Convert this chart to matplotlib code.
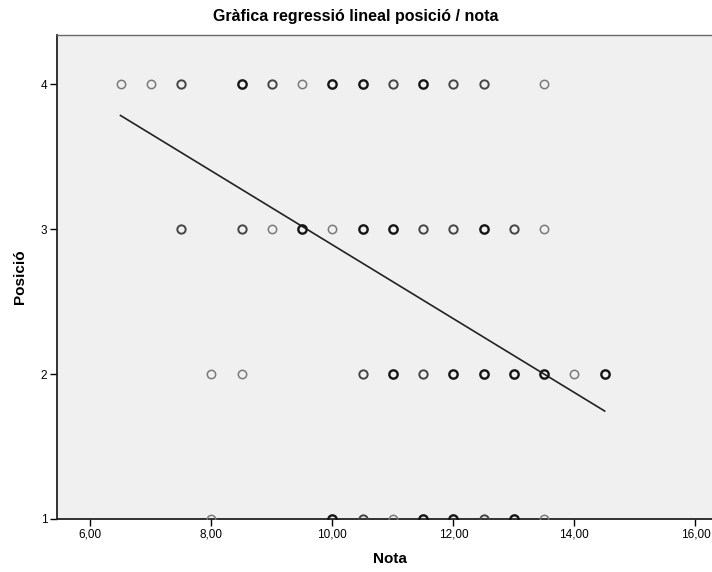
import matplotlib

matplotlib.use("Agg")
import matplotlib.pyplot as plt
import numpy as np

plt.rcParams["font.family"] = ["Liberation Sans", "DejaVu Sans"]

# Punts (nota, posició) i quantes vegades es repeteix cada punt (foscor del cercle)
nota_4 = [6.5, 7.0, 7.5, 8.5, 9.0, 9.5, 10.0, 10.5, 11.0, 11.5, 12.0, 12.5, 13.5]
rep_4 = [1, 1, 2, 3, 2, 1, 3, 3, 2, 3, 2, 2, 1]
nota_3 = [7.5, 8.5, 9.0, 9.5, 10.0, 10.5, 11.0, 11.5, 12.0, 12.5, 13.0, 13.5]
rep_3 = [2, 2, 1, 3, 1, 3, 3, 2, 2, 3, 2, 1]
nota_2 = [8.0, 8.5, 10.5, 11.0, 11.5, 12.0, 12.5, 13.0, 13.5, 14.0, 14.5]
rep_2 = [1, 1, 2, 3, 2, 3, 3, 3, 3, 1, 3]
nota_1 = [8.0, 10.0, 10.5, 11.0, 11.5, 12.0, 12.5, 13.0, 13.5]
rep_1 = [1, 3, 2, 1, 3, 3, 2, 3, 1]

# Recta de regressió llegida del gràfic
recta_x = [6.5, 14.5]
recta_y = [3.785, 1.745]

x_ticks = [6, 8, 10, 12, 14, 16]
y_ticks = [1, 2, 3, 4]

SHADES = {1: "#7a7a7a", 2: "#454545", 3: "#151515"}

fig = plt.figure(figsize=(7.12, 5.72), dpi=100)
ax = fig.add_axes([0.080, 0.0927, 0.935, 0.846])
ax.set_facecolor("#f0f0f0")

for notes, reps, pos in [(nota_4, rep_4, 4), (nota_3, rep_3, 3), (nota_2, rep_2, 2), (nota_1, rep_1, 1)]:
    for n, r in zip(notes, reps):
        ax.plot(n, pos, marker="o", markersize=6.0, markerfacecolor="none",
                markeredgecolor=SHADES[r], markeredgewidth=1.1 + 0.3 * (r - 1),
                linestyle="none", zorder=3)

ax.plot(recta_x, recta_y, color="#222222", linewidth=1.2, zorder=2)

ax.set_xlim(5.45, 16.45)
ax.set_ylim(1, 4.34)
ax.set_xticks(x_ticks)
ax.set_xticklabels([f"{v:.2f}".replace(".", ",") for v in x_ticks])
ax.set_yticks(y_ticks)
ax.set_yticklabels([str(v) for v in y_ticks])
ax.tick_params(axis="both", direction="out", length=5, width=1, labelsize=8.5, colors="#000000", pad=2)

for side in ["left", "bottom"]:
    ax.spines[side].set_color("#222222")
    ax.spines[side].set_linewidth(1.3)
for side in ["top", "right"]:
    ax.spines[side].set_color("#6a6a6a")
    ax.spines[side].set_linewidth(1.0)

ax.set_xlabel("Nota", fontsize=11, fontweight="bold", labelpad=8)
ax.set_ylabel("Posició", fontsize=11, fontweight="bold", labelpad=10)
fig.text(0.5, 0.972, "Gràfica regressió lineal posició / nota", ha="center", va="center",
         fontsize=11.5, fontweight="bold")

fig.savefig("out.png", dpi=100)
plt.close()
